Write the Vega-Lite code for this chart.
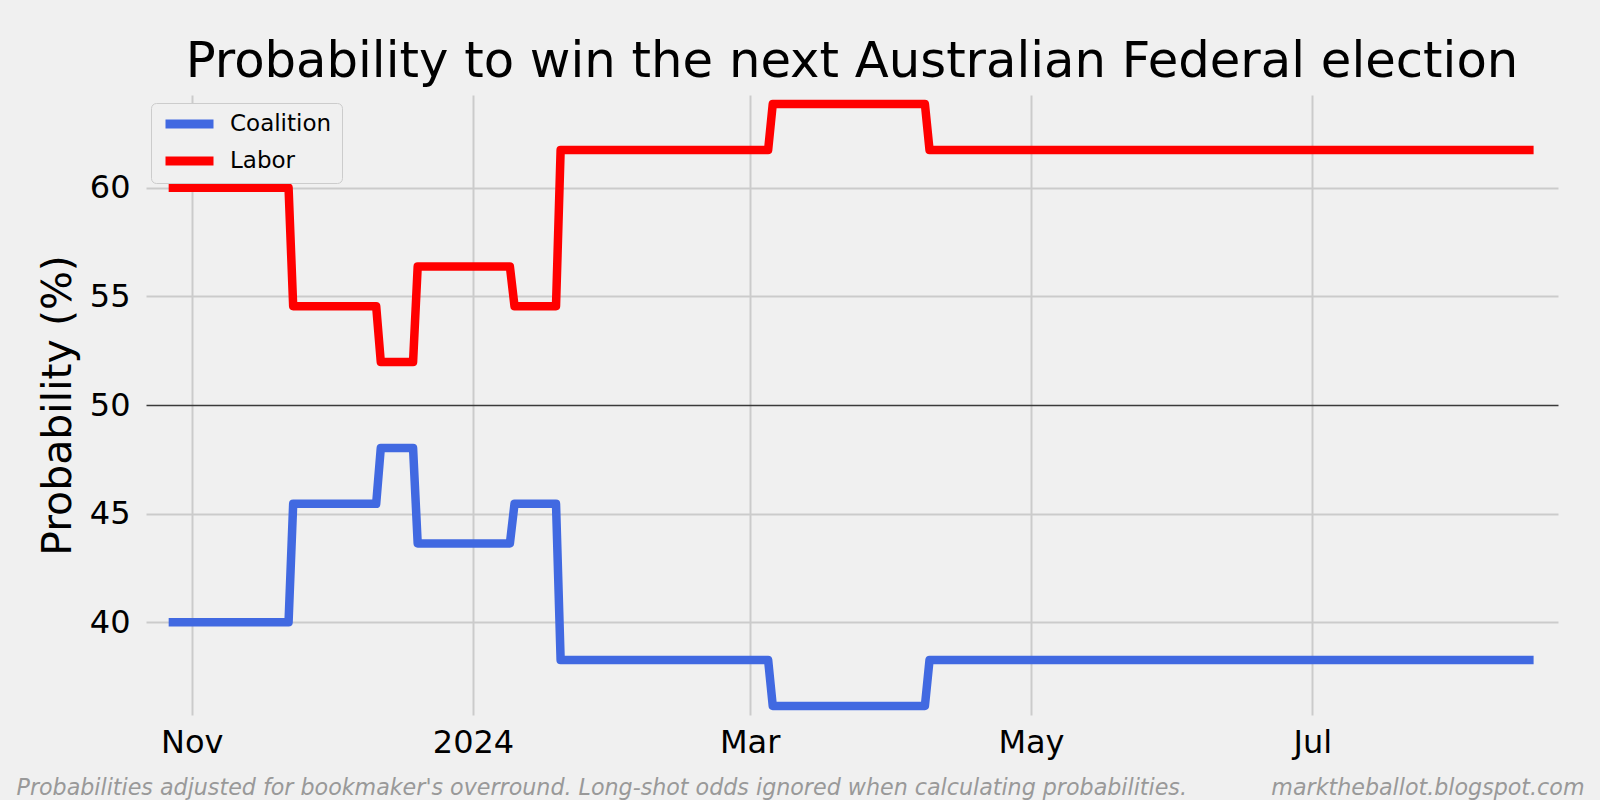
{
  "$schema": "https://vega.github.io/schema/vega-lite/v6.json",
  "width": 1412,
  "height": 620,
  "autosize": {"type": "none"},
  "padding": {"left": 146, "top": 95, "right": 42, "bottom": 85},
  "background": "#f0f0f0",
  "title": {
    "text": "Probability to win the next Australian Federal election",
    "font": "DejaVu Sans",
    "fontSize": 49.7,
    "fontWeight": "normal",
    "color": "#000000",
    "anchor": "middle",
    "offset": 7
  },
  "data": {
    "values": [
      {"date": "2023-10-27", "party": "Labor", "probability": 60.0},
      {"date": "2023-11-22", "party": "Labor", "probability": 60.0},
      {"date": "2023-11-23", "party": "Labor", "probability": 54.55},
      {"date": "2023-12-11", "party": "Labor", "probability": 54.55},
      {"date": "2023-12-12", "party": "Labor", "probability": 51.98},
      {"date": "2023-12-19", "party": "Labor", "probability": 51.98},
      {"date": "2023-12-20", "party": "Labor", "probability": 56.37},
      {"date": "2024-01-09", "party": "Labor", "probability": 56.37},
      {"date": "2024-01-10", "party": "Labor", "probability": 54.55},
      {"date": "2024-01-19", "party": "Labor", "probability": 54.55},
      {"date": "2024-01-20", "party": "Labor", "probability": 61.74},
      {"date": "2024-03-05", "party": "Labor", "probability": 61.74},
      {"date": "2024-03-06", "party": "Labor", "probability": 63.85},
      {"date": "2024-04-08", "party": "Labor", "probability": 63.85},
      {"date": "2024-04-09", "party": "Labor", "probability": 61.74},
      {"date": "2024-08-18", "party": "Labor", "probability": 61.74},
      {"date": "2023-10-27", "party": "Coalition", "probability": 40.0},
      {"date": "2023-11-22", "party": "Coalition", "probability": 40.0},
      {"date": "2023-11-23", "party": "Coalition", "probability": 45.45},
      {"date": "2023-12-11", "party": "Coalition", "probability": 45.45},
      {"date": "2023-12-12", "party": "Coalition", "probability": 48.02},
      {"date": "2023-12-19", "party": "Coalition", "probability": 48.02},
      {"date": "2023-12-20", "party": "Coalition", "probability": 43.63},
      {"date": "2024-01-09", "party": "Coalition", "probability": 43.63},
      {"date": "2024-01-10", "party": "Coalition", "probability": 45.45},
      {"date": "2024-01-19", "party": "Coalition", "probability": 45.45},
      {"date": "2024-01-20", "party": "Coalition", "probability": 38.26},
      {"date": "2024-03-05", "party": "Coalition", "probability": 38.26},
      {"date": "2024-03-06", "party": "Coalition", "probability": 36.15},
      {"date": "2024-04-08", "party": "Coalition", "probability": 36.15},
      {"date": "2024-04-09", "party": "Coalition", "probability": 38.26},
      {"date": "2024-08-18", "party": "Coalition", "probability": 38.26}
    ]
  },
  "encoding": {
    "y": {
      "field": "probability",
      "type": "quantitative",
      "scale": {"domain": [35.73, 64.27], "zero": false, "nice": false},
      "axis": {
        "title": "Probability (%)",
        "values": [40, 45, 50, 55, 60],
        "grid": true,
        "gridColor": {"condition": {"test": "datum.value === 50", "value": "#3a3a3a"}, "value": "#cbcbcb"},
        "gridWidth": {"condition": {"test": "datum.value === 50", "value": 1.3}, "value": 2},
        "domain": false,
        "ticks": false,
        "tickSize": 0,
        "labelPadding": 16,
        "labelFontSize": 32,
        "labelColor": "#000000",
        "titleFontSize": 41,
        "titleFontWeight": "normal",
        "titleColor": "#000000",
        "titlePadding": 10
      }
    },
    "color": {
      "field": "party",
      "type": "nominal",
      "scale": {"domain": ["Coalition", "Labor"], "range": ["#4169e1", "#ff0000"]},
      "legend": {
        "title": null,
        "orient": "none",
        "legendX": 5,
        "legendY": 8,
        "symbolType": "stroke",
        "symbolSize": 2304,
        "symbolStrokeWidth": 9,
        "clipHeight": 22,
        "labelFontSize": 23,
        "labelFont": "DejaVu Sans",
        "labelColor": "#000000",
        "fillColor": "#f0f0f0",
        "strokeColor": "#cccccc",
        "cornerRadius": 5,
        "padding": 10,
        "rowPadding": 14,
        "labelOffset": 12
      }
    }
  },
  "layer": [
    {
      "transform": [{"filter": "datum.party === 'Coalition'"}],
      "mark": {"type": "line", "strokeWidth": 8.5, "strokeCap": "butt", "strokeJoin": "round"},
      "encoding": {
        "x": {
          "field": "date",
          "type": "temporal",
          "scale": {
            "type": "utc",
            "domain": [
              {"year": 2023, "month": 10, "date": 22, "hours": 2, "utc": true},
              {"year": 2024, "month": 8, "date": 23, "hours": 7, "utc": true}
            ]
          },
          "axis": {
            "orient": "bottom",
            "values": [
              {"year": 2023, "month": 11, "date": 1, "utc": true},
              {"year": 2024, "month": 1, "date": 1, "utc": true},
              {"year": 2024, "month": 3, "date": 1, "utc": true},
              {"year": 2024, "month": 5, "date": 1, "utc": true},
              {"year": 2024, "month": 7, "date": 1, "utc": true}
            ],
            "labelExpr": "utcmonth(datum.value) === 0 ? utcFormat(datum.value, '%Y') : utcFormat(datum.value, '%b')",
            "grid": true,
            "gridColor": "#cbcbcb",
            "gridWidth": 2,
            "domain": false,
            "ticks": false,
            "tickSize": 0,
            "labelPadding": 12,
            "labelFontSize": 32,
            "labelColor": "#000000",
            "labelFlush": false,
            "title": "Probabilities adjusted for bookmaker's overround. Long-shot odds ignored when calculating probabilities.",
            "titleAnchor": "start",
            "titleAlign": "left",
            "titleBaseline": "alphabetic",
            "titleX": -130,
            "titleY": 79,
            "titleFontSize": 22.2,
            "titleFontStyle": "italic",
            "titleFontWeight": "normal",
            "titleColor": "#999999"
          }
        }
      }
    },
    {
      "transform": [{"filter": "datum.party === 'Labor'"}],
      "mark": {"type": "line", "strokeWidth": 8.5, "strokeCap": "butt", "strokeJoin": "round"},
      "encoding": {
        "x": {
          "field": "date",
          "type": "temporal",
          "scale": {
            "type": "utc",
            "domain": [
              {"year": 2023, "month": 10, "date": 22, "hours": 2, "utc": true},
              {"year": 2024, "month": 8, "date": 23, "hours": 7, "utc": true}
            ]
          },
          "axis": {
            "orient": "bottom",
            "labels": false,
            "grid": false,
            "domain": false,
            "ticks": false,
            "tickSize": 0,
            "title": "marktheballot.blogspot.com",
            "titleAnchor": "end",
            "titleAlign": "right",
            "titleBaseline": "alphabetic",
            "titleX": 1438,
            "titleY": 79,
            "titleFontSize": 22.2,
            "titleFontStyle": "italic",
            "titleFontWeight": "normal",
            "titleColor": "#999999"
          }
        }
      }
    }
  ],
  "resolve": {"axis": {"x": "independent"}},
  "config": {
    "font": "DejaVu Sans",
    "view": {"stroke": null},
    "axis": {"labelFont": "DejaVu Sans", "titleFont": "DejaVu Sans"}
  }
}
